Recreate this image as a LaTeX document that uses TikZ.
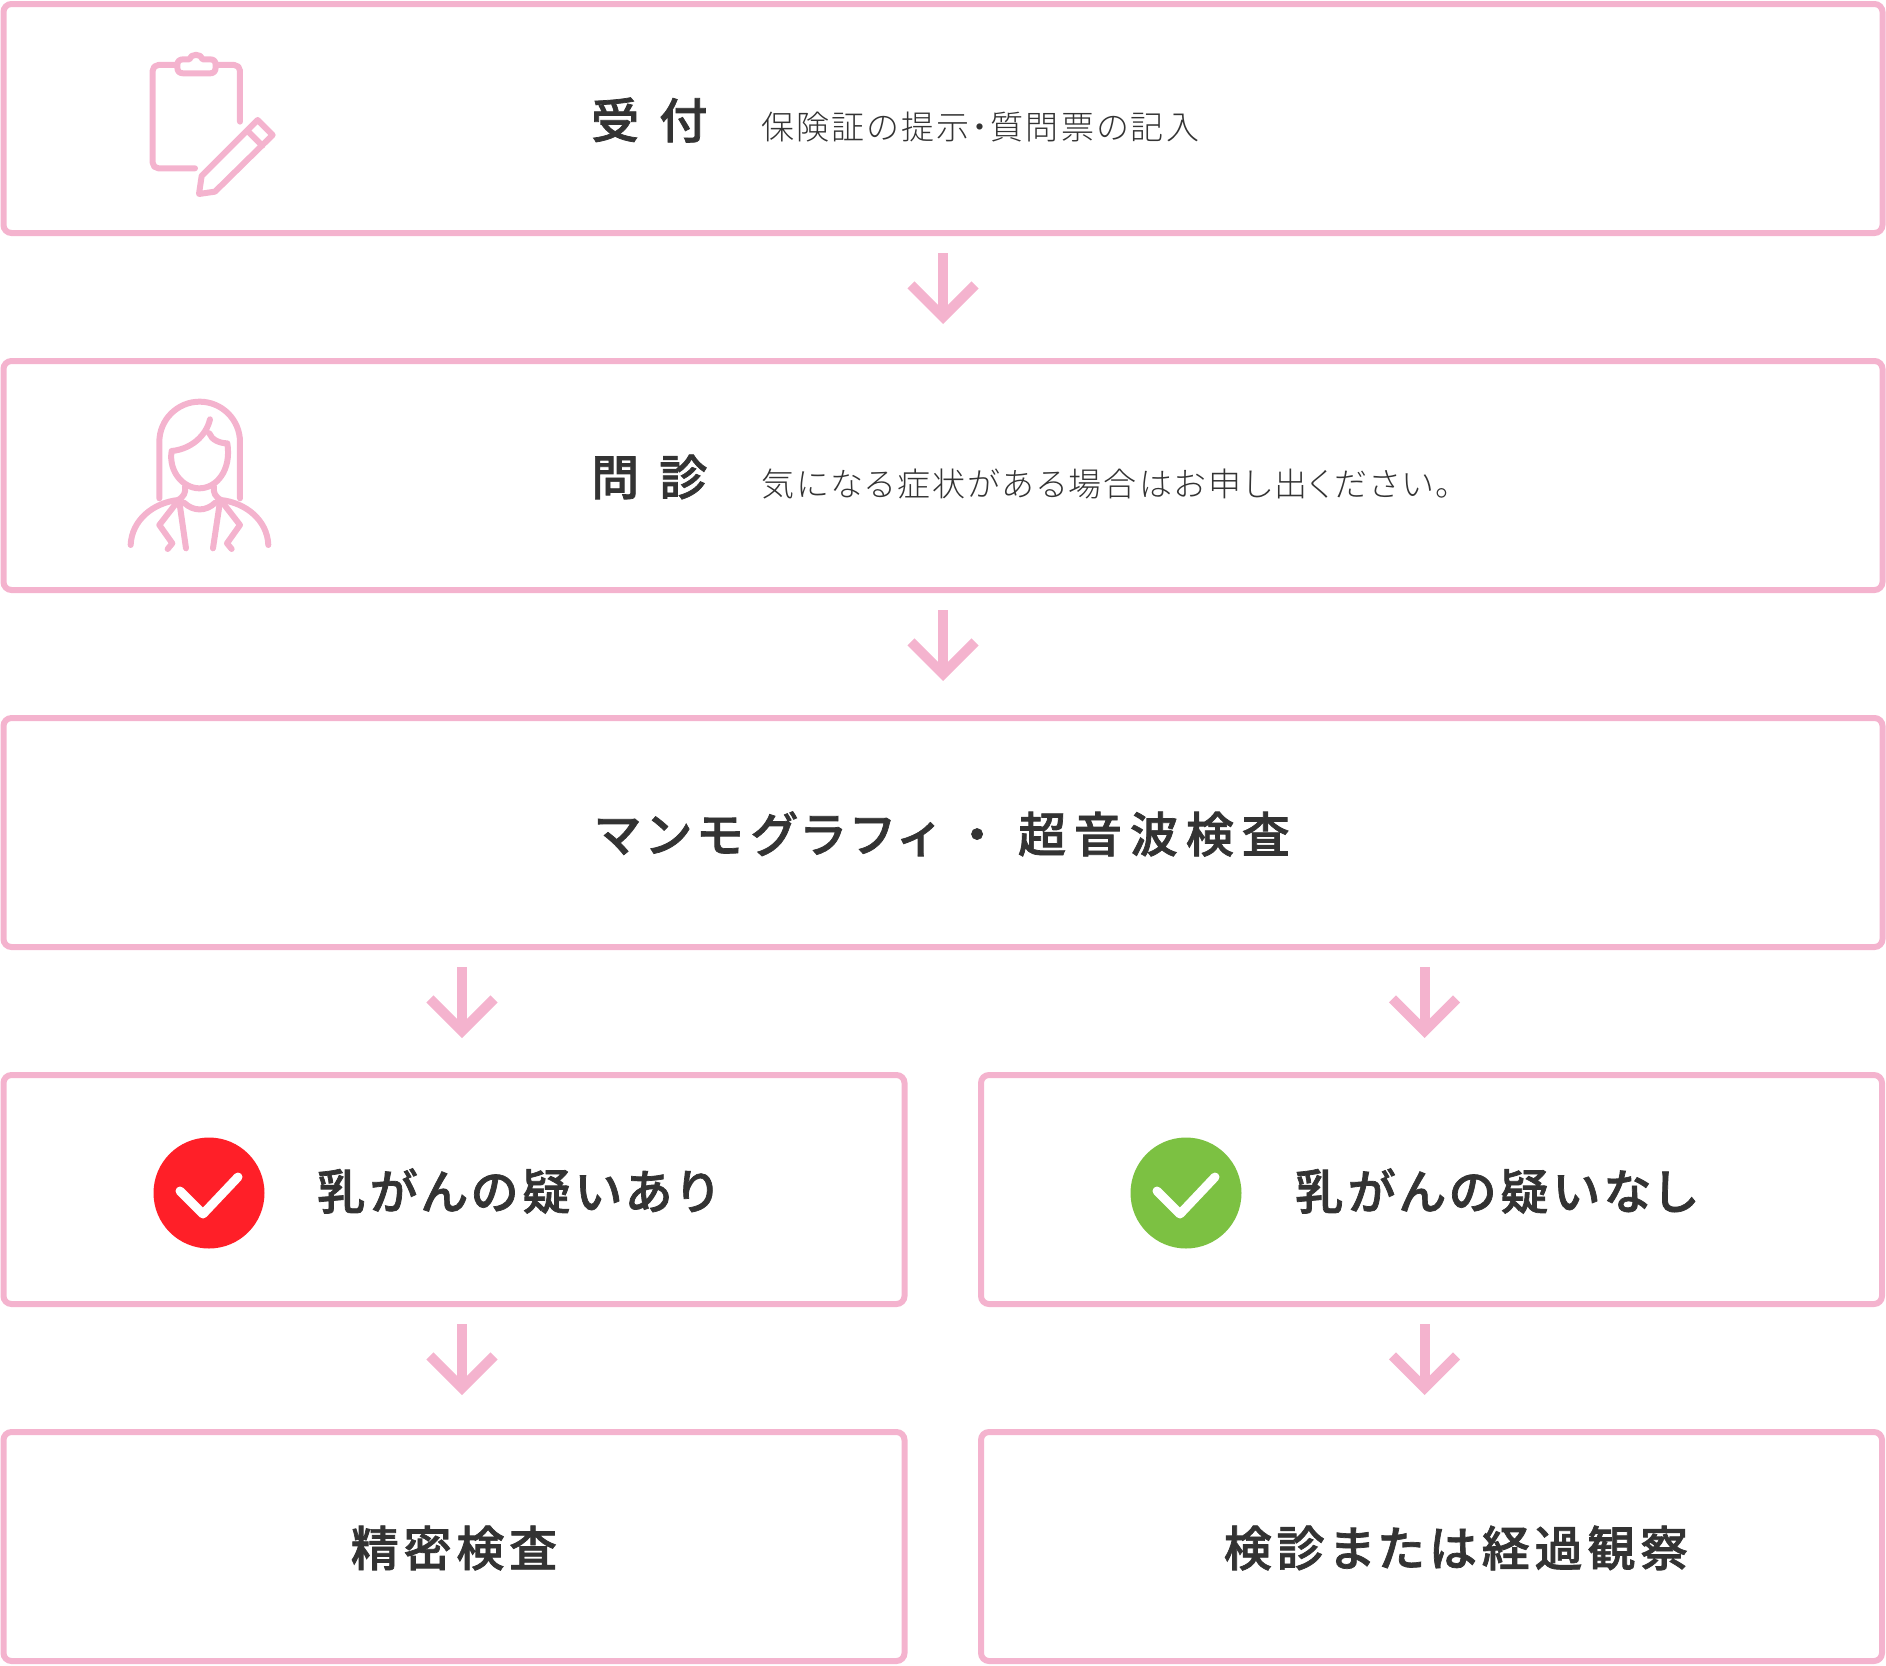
\documentclass[tikz,border=0pt]{standalone}
\usepackage{xcolor}
\usepackage{fontspec}
\usepackage{tikz}
\usetikzlibrary{arrows.meta}
\newfontfamily\jptitle[LetterSpace=10,RawFeature=+palt,FakeBold=1.5]{Noto Sans CJK JP Medium}
\newfontfamily\jpexam[LetterSpace=16.5,RawFeature=+palt,FakeBold=1.5]{Noto Sans CJK JP Medium}
\newfontfamily\jpwide[LetterSpace=42,RawFeature=+palt,FakeBold=1.5]{Noto Sans CJK JP Medium}
\newfontfamily\jpsub[LetterSpace=7,RawFeature=+palt]{Noto Sans CJK JP Light}
\definecolor{flowpink}{HTML}{F4B3CE}
\definecolor{flowtext}{HTML}{333333}
\definecolor{flowred}{HTML}{FF1F28}
\definecolor{flowgreen}{HTML}{7CC142}
\tikzset{
  flowbox/.style={draw=flowpink, line width=6pt, rounded corners=8pt, inner sep=0pt, minimum width=1879pt, minimum height=229pt},
  halfbox/.style={flowbox, minimum width=901pt},
  flowarrow/.style={draw=flowpink, line width=10pt, -{Straight Barb[length=32pt,width=64pt]}, shorten <=17pt, shorten >=34pt},
  title/.style={text=flowtext, inner sep=0pt, font=\jptitle\fontsize{48pt}{50pt}\selectfont},
  examtext/.style={title, font=\jpexam\fontsize{48pt}{50pt}\selectfont},
  widetitle/.style={title, font=\jpwide\fontsize{48pt}{50pt}\selectfont},
  subtitle/.style={text=flowtext, inner sep=0pt, font=\jpsub\fontsize{33pt}{36pt}\selectfont},
  icon/.style={draw=flowpink, line width=6pt, line cap=round, line join=round},
  check/.style={draw=white, line width=9pt, line cap=round, line join=round}
}
\begin{document}
\begin{tikzpicture}[x=1pt,y=-1pt]
        \useasboundingbox (0,0) rectangle (1886,1665);

        % boxes
        \node [flowbox] (reception) at (943,118.5) {};
        \node [flowbox] (interview) at (943,475.5) {};
        \node [flowbox] (exam) at (943,832.5) {};
        \node [halfbox] (suspected) at (454,1189.5) {};
        \node [halfbox] (clear) at (1431.5,1189.5) {};
        \node [halfbox] (detail) at (454,1546.5) {};
        \node [halfbox] (followup) at (1431.5,1546.5) {};

        % arrows
        \draw [flowarrow] (reception) -- (interview);
        \draw [flowarrow] (interview) -- (exam);
        \draw [flowarrow] ([xshift=8pt]suspected.north |- exam.south) -- ([xshift=8pt]suspected.north);
        \draw [flowarrow] ([xshift=-7pt]clear.north |- exam.south) -- ([xshift=-7pt]clear.north);
        \draw [flowarrow] ([xshift=8pt]suspected.south) -- ([xshift=8pt]detail.north);
        \draw [flowarrow] ([xshift=-7pt]clear.south) -- ([xshift=-7pt]followup.north);

        % texts
        \node [widetitle, anchor=west] (receptiontitle) at (591,120) {受付};
        \node [subtitle, anchor=west] (receptionsub) at (761,127) {保険証の提示・質問票の記入};
        \node [widetitle, anchor=west] (interviewtitle) at (591,477) {問診};
        \node [subtitle, anchor=west] (interviewsub) at (761,484) {気になる症状がある場合はお申し出ください。};
        \node [examtext] (examtitle) at (943,834) {マンモグラフィ\hspace{29pt}・\hspace{29pt}超音波検査};
        \node [title, anchor=west] (suspectedtitle) at (317,1191) {乳がんの疑いあり};
        \node [title, anchor=west] (cleartitle) at (1295,1191) {乳がんの疑いなし};
        \node [title] (detailtitle) at (454,1548) {精密検査};
        \node [title] (followuptitle) at (1456,1548) {検診または経過観察};

        % check marks
        \node [circle, fill=flowred, minimum size=111pt, inner sep=0pt] (redmark) at (209,1193) {};
        \draw [check] (180,1191) -- (203,1214) -- (238,1177);
        \node [circle, fill=flowgreen, minimum size=111pt, inner sep=0pt] (greenmark) at (1186,1193) {};
        \draw [check] (1157,1191) -- (1180,1214) -- (1215,1177);

        % clipboard
        \begin{scope}[shift={(100,20)},x=0.3333pt,y=-0.3333pt]
        \draw [icon] (285,445) -- (175,445) arc[start angle=90,end angle=180,radius=17] -- (158,152) arc[start angle=180,end angle=270,radius=17] -- (228,135);
        \draw [icon] (352,135) -- (403,135) arc[start angle=270,end angle=360,radius=17] -- (420,305);
        \draw [icon] (250,118) -- (268,118) .. controls (272,100) and (304,100) .. (308,118) -- (330,118) .. controls (342,118) and (347,124) .. (347,135) -- (347,142) .. controls (347,155) and (340,160) .. (330,160) -- (250,160) .. controls (238,160) and (232,154) .. (232,142) -- (232,135) .. controls (232,124) and (238,118) .. (250,118) -- cycle;
        \draw [icon] (297,522) -- (345,515) -- (518,345) -- (473,300) -- (305,468) -- cycle;
        \draw [icon] (442,332) -- (487,377);
        \end{scope}

        % doctor
        \begin{scope}[shift={(100,380)},x=0.3333pt,y=-0.3333pt]
        \draw [icon] (178,355) -- (178,186) arc[start angle=180,end angle=360,radius=121] -- (420,355);
        \draw [icon] (330,118) .. controls (318,170) and (270,208) .. (215,213) .. controls (205,275) and (250,325) .. (298,325) .. controls (350,325) and (395,270) .. (382,190) .. controls (360,190) and (335,180) .. (328,160);
        \draw [icon] (92,495) .. controls (95,420) and (160,368) .. (235,360) .. controls (250,350) and (258,340) .. (255,320);
        \draw [icon] (505,495) .. controls (502,420) and (437,368) .. (362,360) .. controls (347,350) and (339,340) .. (342,320);
        \draw [icon] (252,368) .. controls (280,395) and (318,395) .. (346,368);
        \draw [icon] (230,368) -- (178,435) -- (217,490) -- (203,507);
        \draw [icon] (238,365) -- (258,505);
        \draw [icon] (360,365) -- (339,505);
        \draw [icon] (368,368) -- (420,435) -- (381,490) -- (395,507);
        \end{scope}
\end{tikzpicture}
\end{document}
